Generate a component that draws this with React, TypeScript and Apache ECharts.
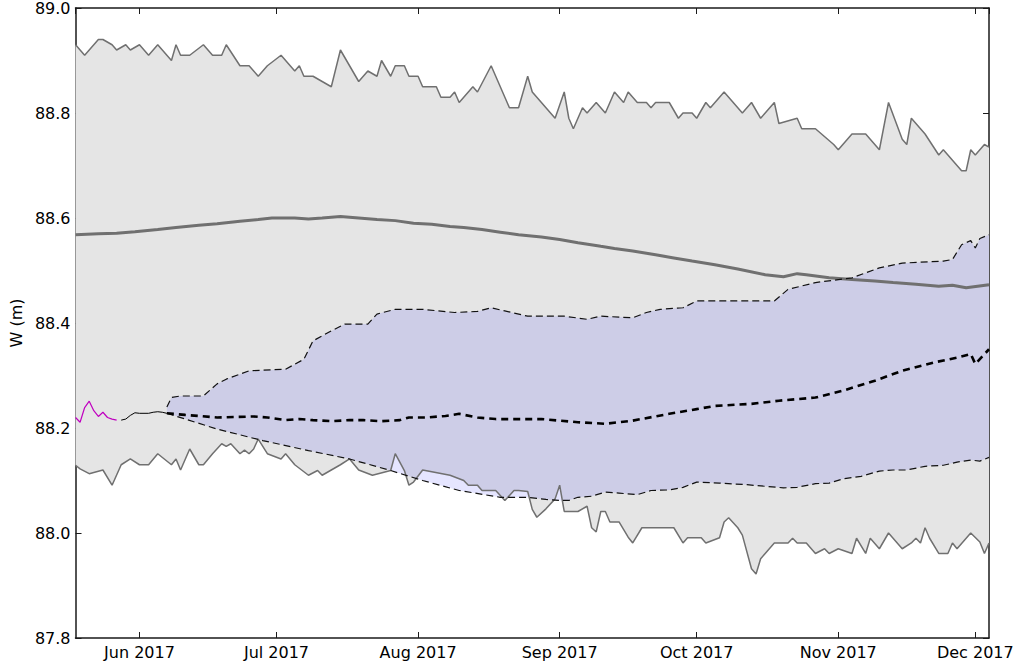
import React, { useEffect, useRef } from "react";
import * as echarts from "echarts";

// Day offsets are counted from 18 May 2017
const START_Y = 2017;
const START_M = 4; // May (0-based)
const START_D = 18;
const X_MIN_DAY = 0;
const X_MAX_DAY = 200;
const Y_MIN = 87.8;
const Y_MAX = 89.0;
const Y_STEP = 0.2;
const MONTHS = ["Jan", "Feb", "Mar", "Apr", "May", "Jun", "Jul", "Aug", "Sep", "Oct", "Nov", "Dec"];

// Historical maximum
const maxDays = [0, 2, 5, 6, 8, 9, 11, 12, 14, 16, 18, 21, 22, 23, 25, 28, 30, 32, 33, 36, 38, 40, 42, 45, 48, 49, 50, 52, 54, 56, 58, 60, 62, 64, 66, 67, 69, 70, 72, 73, 75, 76, 79, 80, 82, 83, 84, 87, 88, 91, 94, 95, 97, 99, 100, 105, 107, 108, 109, 111, 112, 114, 116, 118, 120, 121, 123, 125, 126, 127, 130, 132, 133, 135, 136, 138, 139, 142, 146, 148, 150, 152, 153, 154, 158, 159, 162, 166, 167, 170, 173, 176, 178, 181, 182, 183, 186, 189, 190, 194, 195, 196, 197, 199, 200];
const maxVals = [88.93, 88.91, 88.94, 88.94, 88.93, 88.92, 88.93, 88.92, 88.93, 88.91, 88.93, 88.90, 88.93, 88.91, 88.91, 88.93, 88.91, 88.91, 88.93, 88.89, 88.89, 88.87, 88.89, 88.91, 88.88, 88.89, 88.87, 88.87, 88.86, 88.85, 88.92, 88.89, 88.86, 88.88, 88.87, 88.90, 88.87, 88.89, 88.89, 88.87, 88.87, 88.85, 88.85, 88.83, 88.83, 88.84, 88.82, 88.85, 88.84, 88.89, 88.83, 88.81, 88.81, 88.87, 88.84, 88.79, 88.84, 88.79, 88.77, 88.81, 88.80, 88.82, 88.80, 88.84, 88.82, 88.84, 88.82, 88.82, 88.81, 88.82, 88.82, 88.79, 88.80, 88.80, 88.79, 88.82, 88.81, 88.84, 88.80, 88.82, 88.79, 88.81, 88.82, 88.78, 88.79, 88.77, 88.77, 88.74, 88.73, 88.76, 88.76, 88.73, 88.82, 88.75, 88.74, 88.79, 88.76, 88.72, 88.73, 88.69, 88.69, 88.73, 88.72, 88.74, 88.735];

// Historical minimum
const minDays = [0, 1, 3, 6, 8, 10, 12, 14, 16, 18, 21, 22, 23, 25, 27, 28, 30, 32, 33, 34, 36, 37, 38, 39, 40, 42, 45, 46, 48, 51, 53, 54, 58, 60, 62, 65, 69, 70, 72, 73, 74, 76, 82, 85, 86, 88, 89, 92, 94, 96, 97, 99, 100, 101, 103, 105, 106, 107, 110, 112, 113, 114, 115, 116, 117, 119, 121, 122, 124, 131, 133, 134, 137, 138, 141, 142, 143, 145, 146, 148, 149, 150, 151, 153, 156, 157, 158, 160, 162, 164, 165, 167, 170, 171, 173, 174, 176, 178, 181, 183, 184, 185, 186, 187, 189, 191, 192, 193, 196, 198, 199, 200];
const minVals = [88.129, 88.122, 88.113, 88.120, 88.091, 88.130, 88.141, 88.130, 88.130, 88.151, 88.130, 88.141, 88.120, 88.160, 88.130, 88.130, 88.151, 88.170, 88.165, 88.170, 88.151, 88.158, 88.151, 88.160, 88.179, 88.151, 88.141, 88.151, 88.130, 88.110, 88.119, 88.110, 88.130, 88.141, 88.120, 88.110, 88.119, 88.151, 88.119, 88.091, 88.097, 88.120, 88.110, 88.100, 88.091, 88.091, 88.081, 88.081, 88.062, 88.081, 88.081, 88.079, 88.045, 88.030, 88.046, 88.065, 88.091, 88.041, 88.041, 88.051, 88.010, 88.002, 88.041, 88.041, 88.021, 88.021, 87.992, 87.981, 88.010, 88.010, 87.981, 87.991, 87.991, 87.981, 87.991, 88.021, 88.029, 88.010, 87.996, 87.932, 87.922, 87.951, 87.961, 87.981, 87.981, 87.990, 87.981, 87.981, 87.961, 87.970, 87.961, 87.970, 87.961, 87.990, 87.961, 87.990, 87.970, 88.000, 87.970, 87.981, 87.990, 87.981, 88.010, 87.990, 87.961, 87.961, 87.981, 87.970, 88.000, 87.983, 87.961, 87.981];

// Historical mean
const meanDays = [0, 5, 9, 13, 18, 22, 27, 31, 36, 40, 43, 48, 51, 54, 58, 62, 66, 70, 74, 78, 82, 85, 89, 93, 97, 102, 106, 110, 115, 118, 122, 127, 131, 135, 140, 145, 151, 155, 158, 160, 165, 170, 175, 179, 184, 189, 192, 195, 200];
const meanVals = [88.568, 88.570, 88.571, 88.574, 88.578, 88.582, 88.586, 88.589, 88.594, 88.597, 88.600, 88.600, 88.598, 88.600, 88.603, 88.600, 88.597, 88.595, 88.590, 88.588, 88.584, 88.582, 88.578, 88.573, 88.568, 88.564, 88.559, 88.553, 88.546, 88.542, 88.537, 88.530, 88.524, 88.518, 88.511, 88.503, 88.492, 88.488, 88.494, 88.492, 88.486, 88.483, 88.480, 88.477, 88.474, 88.470, 88.472, 88.467, 88.473];

// Forecast upper bound
const upDays = [20, 21, 23, 28, 31, 33, 38, 46, 50, 52, 56, 59, 64, 66, 70, 76, 83, 88, 91, 94, 99, 107, 112, 115, 122, 125, 128, 133, 136, 153, 156, 162, 170, 176, 181, 190, 192, 194, 196, 197, 198, 200];
const upVals = [88.240, 88.258, 88.261, 88.261, 88.284, 88.293, 88.309, 88.312, 88.331, 88.366, 88.385, 88.398, 88.398, 88.417, 88.426, 88.426, 88.420, 88.422, 88.429, 88.423, 88.413, 88.413, 88.407, 88.413, 88.410, 88.420, 88.426, 88.429, 88.442, 88.442, 88.464, 88.477, 88.486, 88.505, 88.514, 88.518, 88.521, 88.549, 88.557, 88.543, 88.561, 88.568];

// Forecast lower bound
const loDays = [20, 31, 41, 51, 60, 69, 76, 84, 93, 99, 103, 106, 108, 110, 113, 116, 119, 123, 126, 130, 133, 136, 141, 147, 151, 155, 158, 162, 165, 168, 172, 176, 179, 182, 186, 190, 193, 196, 198, 200];
const loVals = [88.228, 88.198, 88.176, 88.157, 88.141, 88.119, 88.100, 88.081, 88.068, 88.068, 88.064, 88.062, 88.062, 88.068, 88.070, 88.078, 88.076, 88.073, 88.081, 88.082, 88.087, 88.097, 88.095, 88.092, 88.089, 88.086, 88.087, 88.094, 88.095, 88.103, 88.108, 88.118, 88.120, 88.120, 88.127, 88.129, 88.135, 88.139, 88.137, 88.144];

// Forecast median
const medDays = [20, 24, 31, 39, 42, 46, 49, 52, 56, 60, 63, 67, 71, 73, 77, 81, 84, 88, 92, 95, 102, 110, 116, 122, 130, 136, 140, 148, 154, 162, 168, 175, 181, 188, 193, 196, 197, 200];
const medVals = [88.228, 88.225, 88.220, 88.222, 88.220, 88.215, 88.217, 88.215, 88.213, 88.215, 88.215, 88.213, 88.215, 88.220, 88.220, 88.223, 88.227, 88.220, 88.217, 88.217, 88.217, 88.211, 88.208, 88.214, 88.227, 88.236, 88.242, 88.246, 88.252, 88.258, 88.271, 88.290, 88.309, 88.325, 88.334, 88.341, 88.322, 88.350];

// Observations (magenta) and simulated past (black)
const obsDays = [0, 1, 2, 3, 4, 5, 6, 7, 8, 9];
const obsVals = [88.220, 88.211, 88.239, 88.251, 88.233, 88.222, 88.230, 88.220, 88.217, 88.215];
const simDays = [10, 11, 12, 13, 14, 16, 17, 18, 19, 20];
const simVals = [88.215, 88.217, 88.224, 88.229, 88.228, 88.228, 88.230, 88.231, 88.230, 88.228];

const ts = (d: number) => new Date(START_Y, START_M, START_D + d).getTime();
const pairs = (days: number[], vals: number[]) => days.map((d, i) => [ts(d), vals[i]]);

const FONT = "DejaVu Sans";
const AXIS_COLOR = "#1a1a1a";

function bandSeries(upper: any[], lower: any[], fill: string, z: number) {
  return {
    type: "custom",
    z,
    silent: true,
    clip: true,
    data: [[upper[0][0], upper[0][1]]],
    renderItem: (params: any, api: any) => {
      const pts: number[][] = [];
      upper.forEach((p) => pts.push(api.coord(p)));
      for (let i = lower.length - 1; i >= 0; i--) pts.push(api.coord(lower[i]));
      return { type: "polygon", shape: { points: pts }, style: { fill, stroke: "none" } };
    },
  };
}

function lineSeries(data: any[], color: string, width: number, type: any, z: number) {
  return {
    type: "line",
    data,
    z,
    showSymbol: false,
    symbol: "none",
    silent: true,
    lineStyle: { color, width, type },
  };
}

export default function App() {
  const ref = useRef<HTMLDivElement>(null);
  useEffect(() => {
    if (!ref.current) return;
    const chart = echarts.init(ref.current, undefined, { renderer: "svg" });
    const maxData = pairs(maxDays, maxVals);
    const minData = pairs(minDays, minVals);
    const upData = pairs(upDays, upVals);
    const loData = pairs(loDays, loVals);

    const monthFmt = (v: number) => {
      const d = new Date(v);
      return `${MONTHS[d.getMonth()]} ${d.getFullYear()}`;
    };
    const xCommon = {
      type: "time",
      min: ts(X_MIN_DAY),
      max: ts(X_MAX_DAY),
      splitNumber: 7,
      splitLine: { show: false },
      axisLine: { show: true, onZero: false, lineStyle: { color: AXIS_COLOR, width: 1.5 } },
      axisTick: { show: true, inside: true, length: 6, lineStyle: { color: AXIS_COLOR, width: 1 } },
    };
    const yCommon = {
      type: "value",
      min: Y_MIN,
      max: Y_MAX,
      interval: Y_STEP,
      splitLine: { show: false },
      axisLine: { show: true, onZero: false, lineStyle: { color: AXIS_COLOR, width: 1.5 } },
      axisTick: { show: true, inside: true, length: 6, lineStyle: { color: AXIS_COLOR, width: 1 } },
    };

    chart.setOption({
      animation: false,
      backgroundColor: "#ffffff",
      grid: { left: 71, right: 35, top: 6, bottom: 30, containLabel: false },
      xAxis: [
        {
          ...xCommon,
          position: "bottom",
          axisLabel: {
            show: true,
            fontSize: 16,
            fontFamily: FONT,
            color: "#000",
            margin: 6,
            showMinLabel: false,
            showMaxLabel: false,
            formatter: monthFmt,
          },
        },
        { ...xCommon, position: "top", axisLabel: { show: false } },
      ],
      yAxis: [
        {
          ...yCommon,
          position: "left",
          name: "W (m)",
          nameLocation: "middle",
          nameGap: 50,
          nameTextStyle: { fontSize: 16, fontFamily: FONT, color: "#000" },
          axisLabel: {
            show: true,
            fontSize: 16,
            fontFamily: FONT,
            color: "#000",
            margin: 5,
            formatter: (v: number) => v.toFixed(1),
          },
        },
        { ...yCommon, position: "right", axisLabel: { show: false } },
      ],
      series: [
        bandSeries(maxData, minData, "#e5e5e5", 1),
        bandSeries(upData, loData, "rgba(0,0,255,0.1)", 2),
        lineSeries(maxData, "#707070", 1.5, "solid", 3),
        lineSeries(minData, "#707070", 1.5, "solid", 3),
        lineSeries(pairs(meanDays, meanVals), "#707070", 3, "solid", 4),
        lineSeries(upData, "#111", 1.2, [7, 4], 5),
        lineSeries(loData, "#111", 1.2, [7, 4], 5),
        lineSeries(pairs(medDays, medVals), "#000", 2.6, [7, 5], 6),
        lineSeries(pairs(simDays, simVals), "#000", 1, "solid", 6),
        lineSeries(pairs(obsDays, obsVals), "#c000c0", 1.2, "solid", 6),
      ],
    });
    return () => chart.dispose();
  }, []);

  return (
    <div
      ref={ref}
      style={{ position: "fixed", left: 0, top: 0, width: 1024, height: 668, background: "#fff" }}
    />
  );
}
